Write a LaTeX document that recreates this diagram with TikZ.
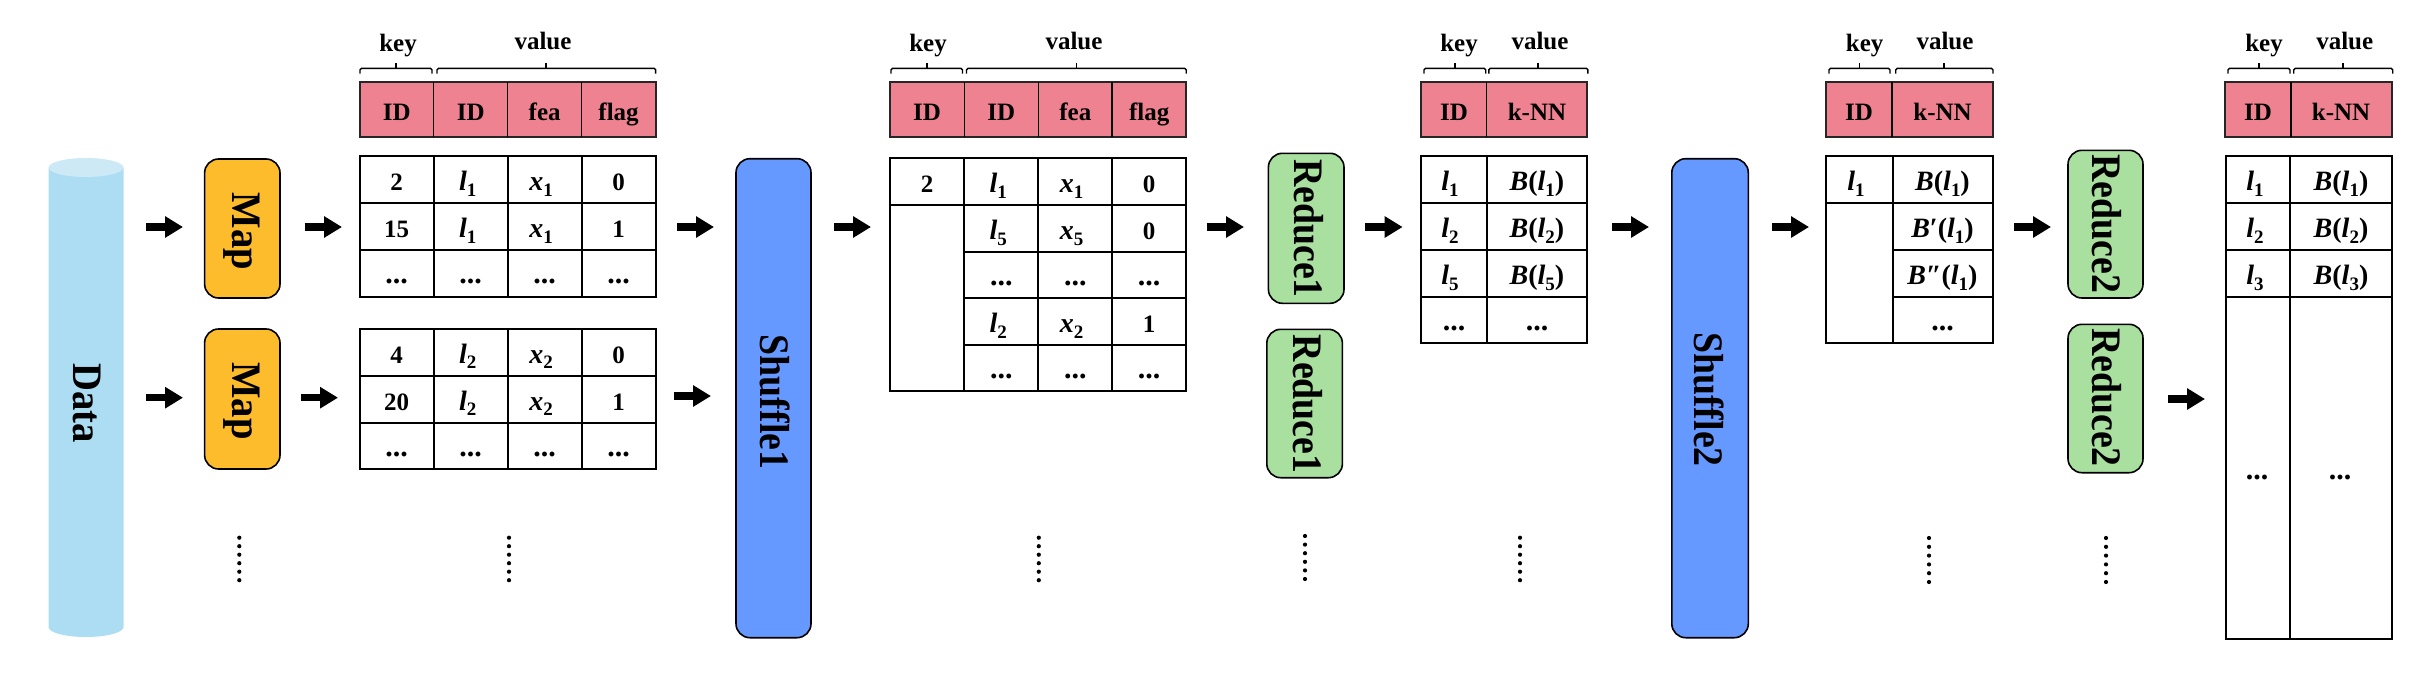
\documentclass[tikz,border=0pt]{standalone}
\usepackage{fontspec}
\setmainfont{Liberation Serif}
\usetikzlibrary{arrows.meta}
\definecolor{hdrpink}{HTML}{EF8291}
\definecolor{maporange}{HTML}{FDBC2C}
\definecolor{cyl}{HTML}{ADDDF2}
\definecolor{cyltop}{HTML}{CDE9F6}
\definecolor{shufblue}{HTML}{6699FF}
\definecolor{redgreen}{HTML}{A9DF9F}
\newcommand\su[1]{\raisebox{-0.2em}{\fontsize{19}{19}\selectfont #1}}
\newcommand\mfs{\fontsize{28}{30}\selectfont}
\newcommand\lv[1]{{\mfs\textit{l}\su{#1}}}
\newcommand\xv[1]{{\mfs\textit{x}\su{#1}}}
\newcommand\bv[2]{{\mfs\textit{B}#1(\textit{l}\su{#2})}}
\newcommand\dts{{\fontsize{30}{30}\selectfont ...}}
\newcommand\vt[2][.9]{\scalebox{#1}[1]{#2}}
\newcommand\ct[4]{\node[celltext] (#1) at (#2,#3) {#4};}
\newcommand\ar[4]{\coordinate (#1s) at (#2,#4); \coordinate (#1e) at (#3,#4); \draw[blockarrow] (#1s) -- (#1e);}
\newcommand\dotcol[3]{\foreach \k in {0,...,5} {\fill[black] (#1,#2+\k*#3) circle[radius=2.1];}}
\newcommand\brc[4]{\coordinate (#1a) at (#2,73.5); \coordinate (#1b) at (#3,73.5);
  \draw[bracket] (#1a) -- (#2,68.3) -- (#3,68.3) -- (#1b); \draw[bracket] (#4,68.3) -- (#4,62.7);}
\tikzset{
  celltext/.style={anchor=base,inner sep=0pt,font=\fontsize{25}{27}\selectfont\bfseries},
  vlabel/.style={anchor=base,rotate=-90,inner sep=0pt,font=\fontsize{42}{44}\selectfont\bfseries},
  procbox/.style={draw=black,line width=1.6pt,rounded corners=14pt},
  hdrgrid/.style={draw=black!85,line width=2pt,fill=hdrpink},
  grid/.style={draw=black,line width=2pt},
  bracket/.style={draw=black,line width=1.4pt,rounded corners=1.5pt},
  blockarrow/.style={line width=7.5pt,-{Triangle[length=18pt,width=20.5pt]},black},
}
\begin{document}
\begin{tikzpicture}[x=1pt,y=-1pt]
\useasboundingbox (0,0) rectangle (2434,696);
% cylinder
\path[fill=cyl] (48.5,167.5) -- (48.5,627) arc[start angle=180,end angle=0,x radius=37.5,y radius=10] -- (123.5,167.5) -- cycle;
\fill[cyltop] (86,167.5) ellipse[x radius=37.5,y radius=9.5];
\node[vlabel] (data) at (73,403) {\vt[.92]{Data}};
% process boxes
\draw[procbox,fill=maporange] (204.6,159) rectangle (280,298);
\node[vlabel] (map1) at (232,231.5) {\vt[.92]{Map}};
\draw[procbox,fill=maporange] (204.6,329) rectangle (280,469);
\node[vlabel] (map2) at (232,401) {\vt[.92]{Map}};
\draw[procbox,fill=shufblue] (736,158.7) rectangle (811,637.7);
\node[vlabel] (shuffle1) at (760,402) {\vt{Shuffle1}};
\draw[procbox,fill=shufblue] (1671.8,158.7) rectangle (1748.3,637.7);
\node[vlabel] (shuffle2) at (1694,399.5) {\vt{Shuffle2}};
\draw[procbox,fill=redgreen] (1268.4,153.3) rectangle (1344,303.3);
\node[vlabel] (red1a) at (1294,228.5) {\vt{Reduce1}};
\draw[procbox,fill=redgreen] (1266.8,329.3) rectangle (1342.4,477.7);
\node[vlabel] (red1b) at (1293,404) {\vt{Reduce1}};
\draw[procbox,fill=redgreen] (2068,150.3) rectangle (2143,298);
\node[vlabel] (red2a) at (2092,223.7) {\vt{Reduce2}};
\draw[procbox,fill=redgreen] (2068,324.3) rectangle (2143,472.7);
\node[vlabel] (red2b) at (2092,397.5) {\vt{Reduce2}};
% arrows
\ar{a1}{146}{183}{227}
\ar{a2}{304.6}{342}{227}
\ar{a3}{677}{714}{227}
\ar{a4}{146}{183}{397.7}
\ar{a5}{301}{338}{397.7}
\ar{a6}{673.5}{711}{396}
\ar{a7}{834}{871}{227}
\ar{a8}{1206.6}{1244}{227}
\ar{a9}{1364.8}{1402.6}{227}
\ar{a10}{1612}{1649}{227}
\ar{a11}{1771.8}{1809}{227}
\ar{a12}{2014}{2051}{227}
\ar{a13}{2168}{2205}{399}
% table 1 header
\draw[hdrgrid] (359.7,82) rectangle (655.6,137.3);
\foreach \x in {433.7,507.7,581.6} \draw[grid,line width=1.5pt] (\x,82) -- (\x,137.3);
\ct{ha1}{396.7}{120}{ID}\ct{ha2}{470.7}{120}{ID}\ct{ha3}{544.7}{120}{fea}\ct{ha4}{618.6}{120}{flag}
\brc{ba1}{360}{432}{396}\brc{ba2}{437}{655.6}{546}
\ct{ka}{398}{51.7}{key}\ct{va}{543}{49.3}{value}
% table 1 body top
\draw[grid] (359.7,156.3) rectangle (655.6,296.7);
\foreach \y in {203.3,250} \draw[grid] (359.7,\y) -- (655.6,\y);
\foreach \x in {433.7,507.7,581.6} \draw[grid] (\x,156.3) -- (\x,296.7);
\ct{a11}{396.7}{190.8}{2}\ct{a12}{467.7}{190.8}{\lv1}\ct{a13}{541}{190.8}{\xv1}\ct{a14}{618.6}{190.8}{0}
\ct{a21}{396.7}{237.8}{15}\ct{a22}{467.7}{237.8}{\lv1}\ct{a23}{541}{237.8}{\xv1}\ct{a24}{618.6}{237.8}{1}
\ct{a31}{396.7}{283.5}{\dts}\ct{a32}{470.7}{283.5}{\dts}\ct{a33}{544.7}{283.5}{\dts}\ct{a34}{618.6}{283.5}{\dts}
% table 1 body bottom
\draw[grid] (359.7,328.7) rectangle (655.6,469.3);
\foreach \y in {375.7,422.7} \draw[grid] (359.7,\y) -- (655.6,\y);
\foreach \x in {433.7,507.7,581.6} \draw[grid] (\x,328.7) -- (\x,469.3);
\ct{b11}{396.7}{363.2}{4}\ct{b12}{467.7}{363.2}{\lv2}\ct{b13}{541}{363.2}{\xv2}\ct{b14}{618.6}{363.2}{0}
\ct{b21}{396.7}{410.2}{20}\ct{b22}{467.7}{410.2}{\lv2}\ct{b23}{541}{410.2}{\xv2}\ct{b24}{618.6}{410.2}{1}
\ct{b31}{396.7}{456.2}{\dts}\ct{b32}{470.7}{456.2}{\dts}\ct{b33}{544.7}{456.2}{\dts}\ct{b34}{618.6}{456.2}{\dts}
% table 2
\draw[hdrgrid] (889.8,82) rectangle (1186.2,137.3);
\foreach \x in {964.3,1038.3,1112.2} \draw[grid,line width=1.5pt] (\x,82) -- (\x,137.3);
\ct{hb1}{927}{120}{ID}\ct{hb2}{1001.3}{120}{ID}\ct{hb3}{1075.3}{120}{fea}\ct{hb4}{1149.2}{120}{flag}
\brc{bb1}{891}{962.5}{927}\brc{bb2}{966.5}{1186.2}{1076.5}
\ct{kb}{928}{51.7}{key}\ct{vb}{1074}{49.3}{value}
\draw[grid] (889.8,158.3) rectangle (1186.2,391);
\draw[grid] (889.8,205) -- (1186.2,205);
\foreach \y in {251.7,298.3,345} \draw[grid] (964.3,\y) -- (1186.2,\y);
\foreach \x in {964.3,1038.3,1112.2} \draw[grid] (\x,158.3) -- (\x,391);
\ct{c11}{927}{192.8}{2}\ct{c12}{998.3}{192.8}{\lv1}\ct{c13}{1071.6}{192.8}{\xv1}\ct{c14}{1149.2}{192.8}{0}
\ct{c22}{998.3}{239.5}{\lv5}\ct{c23}{1071.6}{239.5}{\xv5}\ct{c24}{1149.2}{239.5}{0}
\ct{c32}{1001.3}{285.2}{\dts}\ct{c33}{1075.3}{285.2}{\dts}\ct{c34}{1149.2}{285.2}{\dts}
\ct{c42}{998.3}{332.8}{\lv2}\ct{c43}{1071.6}{332.8}{\xv2}\ct{c44}{1149.2}{332.8}{1}
\ct{c52}{1001.3}{378}{\dts}\ct{c53}{1075.3}{378}{\dts}\ct{c54}{1149.2}{378}{\dts}
% table 3
\draw[hdrgrid] (1421.4,82) rectangle (1587.2,137.3);
\draw[grid,line width=1.5pt] (1486.7,82) -- (1486.7,137.3);
\ct{hc1}{1454}{120}{ID}\ct{hc2}{1537}{120}{k-NN}
\brc{bc1}{1424}{1485.7}{1455}\brc{bc2}{1488.8}{1587.8}{1538}
\ct{kc}{1459}{51.7}{key}\ct{vc}{1540}{49.3}{value}
\draw[grid] (1421.4,156.3) rectangle (1587.2,343.3);
\foreach \y in {203.3,250,296.7} \draw[grid] (1421.4,\y) -- (1587.2,\y);
\draw[grid] (1486.7,156.3) -- (1486.7,343.3);
\ct{d11}{1450}{190.8}{\lv1}\ct{d12}{1537}{190.8}{\bv{}1}
\ct{d21}{1450}{237.8}{\lv2}\ct{d22}{1537}{237.8}{\bv{}2}
\ct{d31}{1450}{284.5}{\lv5}\ct{d32}{1537}{284.5}{\bv{}5}
\ct{d41}{1454}{330.5}{\dts}\ct{d42}{1537}{330.5}{\dts}
% table 4
\draw[hdrgrid] (1826.3,82) rectangle (1993,137.3);
\draw[grid,line width=1.5pt] (1892,82) -- (1892,137.3);
\ct{hd1}{1859}{120}{ID}\ct{hd2}{1942.5}{120}{k-NN}
\brc{bd1}{1829}{1890}{1859.5}\brc{bd2}{1895.7}{1993}{1944}
\ct{kd}{1864.6}{51.7}{key}\ct{vd}{1945}{49.3}{value}
\draw[grid] (1826.3,156.3) rectangle (1992.7,343.3);
\draw[grid] (1826.3,203.3) -- (1992.7,203.3);
\foreach \y in {250,296.7} \draw[grid] (1893,\y) -- (1992.7,\y);
\draw[grid] (1893,156.3) -- (1893,343.3);
\ct{e11}{1856}{190.8}{\lv1}\ct{e12}{1942.5}{190.8}{\bv{}1}
\ct{e22}{1942.5}{237.8}{\bv{′}1}
\ct{e32}{1942.5}{284.5}{\bv{″}1}
\ct{e42}{1942.5}{330.5}{\dts}
% table 5
\draw[hdrgrid] (2225.3,82) rectangle (2392,137.3);
\draw[grid,line width=1.5pt] (2291,82) -- (2291,137.3);
\ct{he1}{2258}{120}{ID}\ct{he2}{2341}{120}{k-NN}
\brc{be1}{2228}{2290}{2259}\brc{be2}{2293.7}{2392.7}{2343}
\ct{ke}{2264}{51.7}{key}\ct{ve}{2344.7}{49.3}{value}
\draw[grid] (2226,156.3) rectangle (2392,638.7);
\foreach \y in {203.3,250,296.7} \draw[grid] (2226,\y) -- (2392,\y);
\draw[grid] (2290,156.3) -- (2290,638.7);
\ct{f11}{2255}{190.8}{\lv1}\ct{f12}{2341}{190.8}{\bv{}1}
\ct{f21}{2255}{237.8}{\lv2}\ct{f22}{2341}{237.8}{\bv{}2}
\ct{f31}{2255}{284.5}{\lv3}\ct{f32}{2341}{284.5}{\bv{}3}
\ct{f41}{2257}{479.5}{\dts}\ct{f42}{2340}{479.5}{\dts}
% dots
\dotcol{239.3}{537.7}{8.5}
\dotcol{509}{537.7}{8.5}
\dotcol{1038.8}{537.7}{8.5}
\dotcol{1305}{536}{8.6}
\dotcol{1520}{537.7}{8.5}
\dotcol{1929}{538}{8.8}
\dotcol{2106}{538}{8.8}
\end{tikzpicture}
\end{document}
